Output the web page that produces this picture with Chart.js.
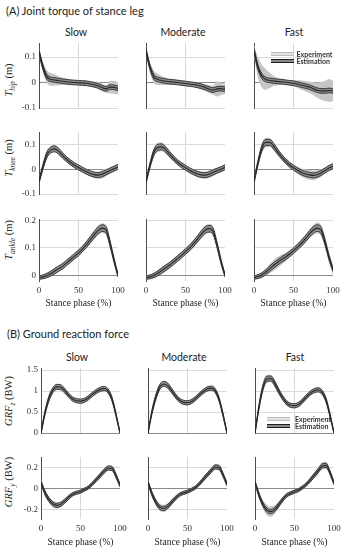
<!DOCTYPE html>
<html>
<head>
<meta charset="utf-8">
<script src="https://cdn.jsdelivr.net/npm/chart.js@4.4.1/dist/chart.umd.min.js"></script>
<style>
body { margin: 0; background: #fff; width: 345px; height: 550px; position: relative; overflow: hidden; font-family: Lato, sans-serif; }
.abs { position: absolute; white-space: nowrap; color: #222; }
.head { font-size: 11px; line-height: 13px; }
.spd { font-size: 10.5px; line-height: 12px; transform: translateX(-50%); }
.ylab { font-family: 'Liberation Serif', serif; font-size: 10.5px; line-height: 12px; transform: translate(-50%, -50%) rotate(-90deg); }
.ylab sub { font-size: 7.5px; font-style: italic; }
.leg { font-size: 7px; font-weight: 700; line-height: 8px; color: #333; }
.sw { position: absolute; height: 2px; }
canvas { position: absolute; }
</style>
</head>
<body>
<div class="abs head" style="left:6px;top:4px">(A) Joint torque of stance leg</div>
<div class="abs spd" style="left:76px;top:26px">Slow</div>
<div class="abs spd" style="left:183px;top:26px">Moderate</div>
<div class="abs spd" style="left:294px;top:26px">Fast</div>
<div class="abs head" style="left:7px;top:327px">(B) Ground reaction force</div>
<div class="abs spd" style="left:77px;top:351px">Slow</div>
<div class="abs spd" style="left:184px;top:351px">Moderate</div>
<div class="abs spd" style="left:295px;top:351px">Fast</div>

<div class="abs ylab" style="left:11px;top:80px"><i>T</i><sub>hip</sub> (m)</div>
<div class="abs ylab" style="left:11px;top:158px"><i>T</i><sub>knee</sub> (m)</div>
<div class="abs ylab" style="left:11px;top:240px"><i>T</i><sub>ankle</sub> (m)</div>
<div class="abs ylab" style="left:11px;top:401px"><i>GRF</i><sub>z</sub> (BW)</div>
<div class="abs ylab" style="left:11px;top:482px"><i>GRF</i><sub>y</sub> (BW)</div>

<script>
// stance phase samples (%)
const phase = [0, 5, 10, 15, 20, 25, 30, 35, 40, 45, 50, 55, 60, 65, 70, 75, 80, 85, 90, 95, 100];
const speeds = ['Slow', 'Moderate', 'Fast'];

// hip torque (m)
const hipSlowMean = [0.12, 0.06, 0.022, 0.012, 0.01, 0.007, 0.005, 0.003, 0.001, 0, -0.001, -0.002, -0.003, -0.006, -0.009, -0.013, -0.02, -0.025, -0.018, -0.019, -0.023];
const hipModMean  = [0.125, 0.06, 0.022, 0.012, 0.008, 0.005, 0.003, 0.002, 0, -0.002, -0.004, -0.006, -0.008, -0.011, -0.015, -0.02, -0.026, -0.03, -0.025, -0.024, -0.026];
const hipFastMean = [0.125, 0.06, 0.025, 0.012, 0.008, 0.006, 0.004, 0.003, 0.001, -0.001, -0.003, -0.006, -0.01, -0.014, -0.018, -0.024, -0.03, -0.033, -0.033, -0.031, -0.033];
const hipSlowSd = [0.012, 0.02, 0.025, 0.025, 0.022, 0.018, 0.015, 0.013, 0.012, 0.01, 0.01, 0.01, 0.01, 0.01, 0.012, 0.015, 0.015, 0.015, 0.025, 0.025, 0.025];
const hipModSd  = [0.012, 0.02, 0.025, 0.022, 0.018, 0.015, 0.012, 0.012, 0.01, 0.01, 0.01, 0.01, 0.01, 0.012, 0.012, 0.013, 0.015, 0.018, 0.03, 0.025, 0.02];
const hipFastSd = [0.02, 0.04, 0.045, 0.04, 0.03, 0.02, 0.015, 0.012, 0.01, 0.01, 0.012, 0.015, 0.018, 0.02, 0.022, 0.025, 0.03, 0.035, 0.04, 0.045, 0.04];
const hipEstSd  = [0.01, 0.01, 0.01, 0.009, 0.009, 0.009, 0.009, 0.009, 0.009, 0.009, 0.009, 0.009, 0.009, 0.009, 0.009, 0.009, 0.009, 0.009, 0.009, 0.009, 0.009];

// knee torque (m)
const kneeSlowMean = [-0.05, 0.01, 0.058, 0.078, 0.082, 0.072, 0.055, 0.04, 0.027, 0.016, 0.007, -0.002, -0.01, -0.017, -0.022, -0.024, -0.02, -0.013, -0.005, 0.002, 0.01];
const kneeModMean  = [-0.05, 0.015, 0.068, 0.088, 0.09, 0.078, 0.06, 0.043, 0.028, 0.016, 0.006, -0.004, -0.012, -0.019, -0.023, -0.024, -0.02, -0.013, -0.006, 0, 0.008];
const kneeFastMean = [-0.05, 0.025, 0.085, 0.108, 0.108, 0.092, 0.07, 0.05, 0.033, 0.018, 0.006, -0.004, -0.013, -0.019, -0.023, -0.025, -0.022, -0.015, -0.005, 0.005, 0.012];
const kneeSlowSd = [0.01, 0.012, 0.015, 0.015, 0.015, 0.013, 0.01, 0.01, 0.01, 0.01, 0.01, 0.01, 0.01, 0.012, 0.013, 0.015, 0.018, 0.015, 0.012, 0.01, 0.01];
const kneeModSd  = [0.01, 0.012, 0.018, 0.02, 0.018, 0.015, 0.012, 0.01, 0.01, 0.01, 0.01, 0.01, 0.012, 0.013, 0.015, 0.015, 0.015, 0.015, 0.012, 0.01, 0.01];
const kneeFastSd = [0.01, 0.015, 0.02, 0.02, 0.018, 0.015, 0.012, 0.01, 0.01, 0.01, 0.012, 0.014, 0.016, 0.018, 0.02, 0.02, 0.018, 0.015, 0.012, 0.012, 0.012];
const kneeEstSd  = [0.008, 0.01, 0.012, 0.012, 0.012, 0.012, 0.011, 0.01, 0.01, 0.01, 0.01, 0.01, 0.01, 0.01, 0.01, 0.01, 0.01, 0.01, 0.01, 0.01, 0.01];

// ankle torque (m)
const ankleSlowMean = [-0.008, -0.005, 0, 0.007, 0.016, 0.025, 0.034, 0.046, 0.058, 0.07, 0.082, 0.096, 0.112, 0.13, 0.148, 0.164, 0.172, 0.165, 0.115, 0.055, 0];
const ankleModMean  = [-0.008, -0.005, 0, 0.008, 0.018, 0.028, 0.038, 0.05, 0.062, 0.074, 0.087, 0.1, 0.115, 0.132, 0.15, 0.165, 0.17, 0.16, 0.11, 0.05, 0];
const ankleFastMean = [-0.008, -0.004, 0.002, 0.012, 0.025, 0.037, 0.048, 0.058, 0.067, 0.078, 0.09, 0.103, 0.117, 0.133, 0.15, 0.165, 0.172, 0.163, 0.12, 0.065, 0.02];
const ankleSlowSd = [0.008, 0.008, 0.008, 0.01, 0.01, 0.01, 0.01, 0.01, 0.01, 0.01, 0.012, 0.012, 0.013, 0.015, 0.016, 0.018, 0.018, 0.018, 0.015, 0.012, 0.01];
const ankleModSd  = [0.008, 0.008, 0.008, 0.01, 0.012, 0.012, 0.012, 0.012, 0.012, 0.012, 0.012, 0.013, 0.013, 0.014, 0.015, 0.016, 0.016, 0.016, 0.014, 0.012, 0.01];
const ankleFastSd = [0.008, 0.008, 0.01, 0.013, 0.017, 0.02, 0.02, 0.018, 0.015, 0.013, 0.012, 0.012, 0.013, 0.015, 0.016, 0.018, 0.02, 0.02, 0.02, 0.02, 0.02];
const ankleEstSd  = [0.006, 0.007, 0.008, 0.009, 0.01, 0.01, 0.01, 0.01, 0.01, 0.01, 0.01, 0.01, 0.011, 0.011, 0.012, 0.012, 0.012, 0.012, 0.01, 0.008, 0.005];

// vertical GRF (BW)
const grfzSlowMean = [0, 0.48, 0.82, 1.02, 1.1, 1.09, 1.01, 0.9, 0.81, 0.77, 0.76, 0.78, 0.84, 0.92, 0.99, 1.04, 1.06, 1.0, 0.8, 0.43, 0];
const grfzModMean  = [0, 0.5, 0.86, 1.1, 1.17, 1.13, 1.01, 0.88, 0.78, 0.73, 0.72, 0.75, 0.82, 0.91, 0.99, 1.05, 1.07, 1.01, 0.8, 0.43, 0];
const grfzFastMean = [0, 0.62, 1.08, 1.29, 1.3, 1.18, 1.0, 0.84, 0.72, 0.66, 0.65, 0.68, 0.76, 0.86, 0.95, 1.01, 1.03, 0.97, 0.78, 0.42, 0];
const grfzSlowSd = [0.02, 0.08, 0.08, 0.07, 0.06, 0.05, 0.04, 0.04, 0.04, 0.04, 0.04, 0.04, 0.04, 0.04, 0.04, 0.04, 0.04, 0.04, 0.04, 0.04, 0.02];
const grfzModSd  = [0.02, 0.08, 0.08, 0.07, 0.07, 0.06, 0.05, 0.04, 0.04, 0.04, 0.04, 0.04, 0.04, 0.04, 0.04, 0.04, 0.04, 0.04, 0.04, 0.04, 0.02];
const grfzFastSd = [0.02, 0.12, 0.12, 0.1, 0.09, 0.08, 0.07, 0.06, 0.06, 0.06, 0.06, 0.06, 0.06, 0.05, 0.05, 0.05, 0.05, 0.06, 0.07, 0.06, 0.02];
const grfzEstSd  = [0.02, 0.05, 0.06, 0.06, 0.06, 0.06, 0.055, 0.05, 0.05, 0.05, 0.05, 0.05, 0.05, 0.05, 0.05, 0.05, 0.05, 0.05, 0.05, 0.04, 0.02];

// anterior-posterior GRF (BW)
const grfySlowMean = [0.06, -0.04, -0.105, -0.145, -0.16, -0.15, -0.12, -0.085, -0.055, -0.04, -0.03, -0.01, 0.01, 0.045, 0.085, 0.125, 0.165, 0.195, 0.19, 0.12, 0.03];
const grfyModMean  = [0.06, -0.05, -0.13, -0.18, -0.19, -0.17, -0.13, -0.09, -0.058, -0.042, -0.03, -0.012, 0.01, 0.045, 0.088, 0.13, 0.17, 0.205, 0.2, 0.13, 0.04];
const grfyFastMean = [0.06, -0.06, -0.15, -0.205, -0.22, -0.2, -0.155, -0.105, -0.065, -0.045, -0.03, -0.015, 0.01, 0.04, 0.08, 0.125, 0.17, 0.215, 0.22, 0.15, 0.05];
const grfySlowSd = [0.02, 0.025, 0.03, 0.03, 0.03, 0.025, 0.02, 0.02, 0.015, 0.015, 0.015, 0.015, 0.015, 0.015, 0.015, 0.02, 0.02, 0.025, 0.025, 0.02, 0.02];
const grfyModSd  = [0.02, 0.025, 0.03, 0.035, 0.035, 0.03, 0.025, 0.02, 0.015, 0.015, 0.015, 0.015, 0.015, 0.015, 0.018, 0.02, 0.025, 0.025, 0.025, 0.02, 0.02];
const grfyFastSd = [0.02, 0.03, 0.04, 0.05, 0.05, 0.04, 0.03, 0.025, 0.02, 0.018, 0.015, 0.015, 0.015, 0.018, 0.02, 0.025, 0.03, 0.035, 0.035, 0.03, 0.02];
const grfyEstSd  = [0.015, 0.02, 0.02, 0.02, 0.02, 0.02, 0.02, 0.018, 0.016, 0.015, 0.015, 0.015, 0.015, 0.016, 0.018, 0.02, 0.02, 0.02, 0.02, 0.018, 0.015];

const xTicks = [0, 50, 100];

const rows = [
  { means: [hipSlowMean, hipModMean, hipFastMean], sds: [hipSlowSd, hipModSd, hipFastSd], est: hipEstSd,
    min: -0.1, max: 0.155, ticks: [-0.1, 0, 0.1], top: 43, h: 65, lefts: [39, 146, 254], showX: false },
  { means: [kneeSlowMean, kneeModMean, kneeFastMean], sds: [kneeSlowSd, kneeModSd, kneeFastSd], est: kneeEstSd,
    min: -0.1, max: 0.15, ticks: [-0.1, 0, 0.1], top: 132, h: 62, lefts: [39, 146, 254], showX: false },
  { means: [ankleSlowMean, ankleModMean, ankleFastMean], sds: [ankleSlowSd, ankleModSd, ankleFastSd], est: ankleEstSd,
    min: -0.02, max: 0.205, ticks: [0, 0.1, 0.2], top: 219, h: 62, lefts: [39, 146, 254], showX: true, xh: 29 },
  { means: [grfzSlowMean, grfzModMean, grfzFastMean], sds: [grfzSlowSd, grfzModSd, grfzFastSd], est: grfzEstSd,
    min: 0, max: 1.55, ticks: [0, 0.5, 1, 1.5], top: 368, h: 65, lefts: [40.5, 148, 255], showX: false },
  { means: [grfySlowMean, grfyModMean, grfyFastMean], sds: [grfySlowSd, grfyModSd, grfyFastSd], est: grfyEstSd,
    min: -0.29, max: 0.3, ticks: [-0.2, 0, 0.2], top: 457, h: 62, lefts: [40.5, 148, 255], showX: true, xh: 30 }
];

Chart.defaults.font.family = "'Liberation Serif', serif";
Chart.defaults.color = '#333';

const YW = 30, PT = 6, PR = 10, PW = 79;

function pts(arr) {
  return phase.map((x, i) => ({ x: x, y: arr[i] }));
}
function shift(mean, sd, sign) {
  return mean.map((v, i) => v + sign * sd[i]);
}

rows.forEach(function(row) {
  speeds.forEach(function(sp, c) {
    const mean = row.means[c];
    const xh = row.showX ? row.xh : 3;
    const cv = document.createElement('canvas');
    cv.width = YW + PW + PR;
    cv.height = PT + row.h + xh;
    cv.style.left = (row.lefts[c] - YW) + 'px';
    cv.style.top = (row.top - PT) + 'px';
    document.body.appendChild(cv);

    const line = { pointRadius: 0, cubicInterpolationMode: 'monotone' };
    new Chart(cv, {
      type: 'line',
      data: {
        datasets: [
          Object.assign({ data: pts(mean), borderColor: '#262626', borderWidth: 1.1, fill: false }, line),
          Object.assign({ data: pts(shift(mean, row.est, -1)), borderColor: '#383838', borderWidth: 1, fill: false }, line),
          Object.assign({ data: pts(shift(mean, row.est, 1)), borderColor: '#383838', borderWidth: 1, fill: 1, backgroundColor: '#8e8e8e' }, line),
          Object.assign({ data: pts(shift(mean, row.sds[c], 1)), borderColor: 'rgba(0,0,0,0)', borderWidth: 0, fill: 4, backgroundColor: '#c6c6c6' }, line),
          Object.assign({ data: pts(shift(mean, row.sds[c], -1)), borderColor: 'rgba(0,0,0,0)', borderWidth: 0, fill: false }, line)
        ]
      },
      options: {
        responsive: false,
        animation: false,
        devicePixelRatio: 1,
        layout: { padding: { top: PT, right: PR, left: 0, bottom: 0 } },
        plugins: { legend: { display: false }, tooltip: { enabled: false } },
        scales: {
          x: {
            type: 'linear', min: 0, max: 100,
            afterBuildTicks: s => { s.ticks = xTicks.map(v => ({ value: v })); },
            afterFit: s => { s.height = xh; s.paddingLeft = 0; s.paddingRight = 0; },
            ticks: { display: row.showX, font: { size: 9 }, padding: 4, maxRotation: 0, callback: v => String(v) },
            grid: { drawTicks: false, color: ctx => (ctx.tick && ctx.tick.value === 50) ? '#d8d8d8' : 'rgba(0,0,0,0)' },
            border: { display: false },
            title: { display: row.showX, text: 'Stance phase (%)', font: { size: 9.5 }, color: '#222', padding: { top: 2, bottom: 1 } }
          },
          y: {
            min: row.min, max: row.max,
            afterBuildTicks: s => { s.ticks = row.ticks.map(v => ({ value: v })); },
            afterFit: s => { s.width = YW; s.paddingTop = 0; s.paddingBottom = 0; },
            ticks: { display: c === 0, font: { size: 9 }, padding: 3, callback: v => String(v) },
            grid: { drawTicks: false, color: ctx => (ctx.tick && ctx.tick.value === 0) ? '#8a8a8a' : '#dadada' },
            border: { display: true, color: '#4d4d4d', width: 1 }
          }
        }
      }
    });
  });
});

// legends (Fast hip panel and Fast GRFz panel)
function legend(x, y, tx) {
  const items = [['Experiment', '#bdbdbd', '#e2e2e2'], ['Estimation', '#1e1e1e', '#8a8a8a']];
  items.forEach(function(it, i) {
    const yy = y + i * 7;
    const sw = document.createElement('div');
    sw.className = 'sw';
    sw.style.left = x + 'px';
    sw.style.top = (yy - 2.5) + 'px';
    sw.style.width = '23px';
    sw.style.borderTop = '1.5px solid ' + it[1];
    sw.style.borderBottom = '1.5px solid ' + it[1];
    sw.style.background = it[2];
    document.body.appendChild(sw);
    const t = document.createElement('div');
    t.className = 'abs leg';
    t.style.left = tx + 'px';
    t.style.top = (yy - 4.5) + 'px';
    t.textContent = it[0];
    document.body.appendChild(t);
  });
}
legend(270.5, 54.5, 296.5);
legend(267, 419, 295);
</script>
</body>
</html>
